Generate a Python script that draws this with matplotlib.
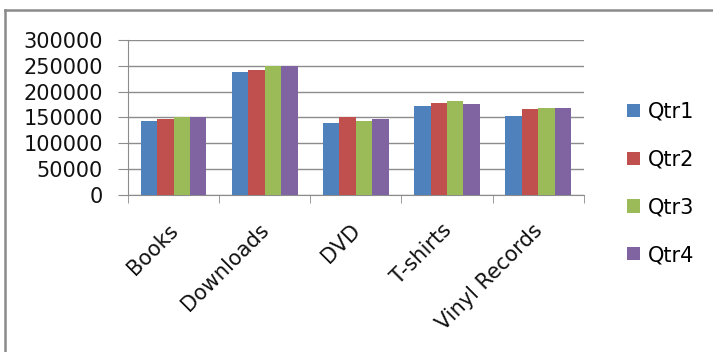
import numpy as np
import matplotlib
matplotlib.use("Agg")
import matplotlib.pyplot as plt
from matplotlib.lines import Line2D
from matplotlib.transforms import ScaledTranslation

plt.rcParams['font.family'] = ['DejaVu Sans']

categories = ['Books', 'Downloads', 'DVD', 'T-shirts', 'Vinyl Records']
qtr1 = [144000, 239000, 139000, 172000, 152000]
qtr2 = [147000, 241000, 150000, 179000, 166000]
qtr3 = [151000, 250000, 144000, 181000, 169000]
qtr4 = [151000, 249000, 147000, 177000, 169000]
series_names = ['Qtr1', 'Qtr2', 'Qtr3', 'Qtr4']
colors = ['#4F81BD', '#C0504D', '#9BBB59', '#8064A2']
y_ticks = [0, 50000, 100000, 150000, 200000, 250000, 300000]

W, H = 713, 352
fig = plt.figure(figsize=(W / 100, H / 100), dpi=100)
ax = fig.add_axes([128 / W, (H - 195) / H, (583.7 - 128) / W, 155 / H])

grid_col = '#8c8c8c'
x = np.arange(len(categories))
bw = 0.18
handles = []
for i, (vals, name) in enumerate(zip([qtr1, qtr2, qtr3, qtr4], series_names)):
    b = ax.bar(x + (i - 1.5) * bw, vals, bw, color=colors[i], label=name,
               zorder=3, linewidth=0)
    handles.append(b)

ax.set_xlim(-0.5, len(categories) - 0.5)
ax.set_ylim(0, 300000)
ax.set_yticks(y_ticks)
ax.set_yticklabels([str(v) for v in y_ticks], fontsize=15, color='#111111')
ax.yaxis.grid(True, color=grid_col, linewidth=1.0, zorder=0)
for s in ['top', 'right']:
    ax.spines[s].set_visible(False)
ax.spines['left'].set_color(grid_col)
ax.spines['bottom'].set_color(grid_col)
ax.tick_params(axis='y', length=7, color=grid_col, pad=11)

ax.set_xticks(x)
ax.set_xticks(np.arange(-0.5, len(categories)), minor=True)
ax.tick_params(axis='x', which='major', length=0, pad=18)
ax.tick_params(axis='x', which='minor', length=6, color=grid_col, direction='out')
ax.set_xticklabels(categories, fontsize=15, color='#111111')
offset = ScaledTranslation(-6 / 100, 0, fig.dpi_scale_trans)
for lab in ax.get_xticklabels():
    lab.set_rotation(45)
    lab.set_ha('right')
    lab.set_va('top')
    lab.set_rotation_mode('anchor')
    lab.set_transform(lab.get_transform() + offset)

fig.legend(handles=handles, labels=series_names, loc='center left',
           bbox_to_anchor=(608 / W, (H - 183.5) / H), frameon=False,
           fontsize=15, handlelength=0.62, handleheight=0.62,
           handletextpad=0.4, labelspacing=1.33)

# outer chart border (left and top only visible)
fig.add_artist(Line2D([5 / W, 5 / W], [0, (H - 10) / H], color='#8a8a8a',
                      linewidth=1.8, transform=fig.transFigure))
fig.add_artist(Line2D([5 / W, 1], [(H - 10) / H, (H - 10) / H], color='#8a8a8a',
                      linewidth=1.8, transform=fig.transFigure))

fig.savefig('out.png', dpi=100)
